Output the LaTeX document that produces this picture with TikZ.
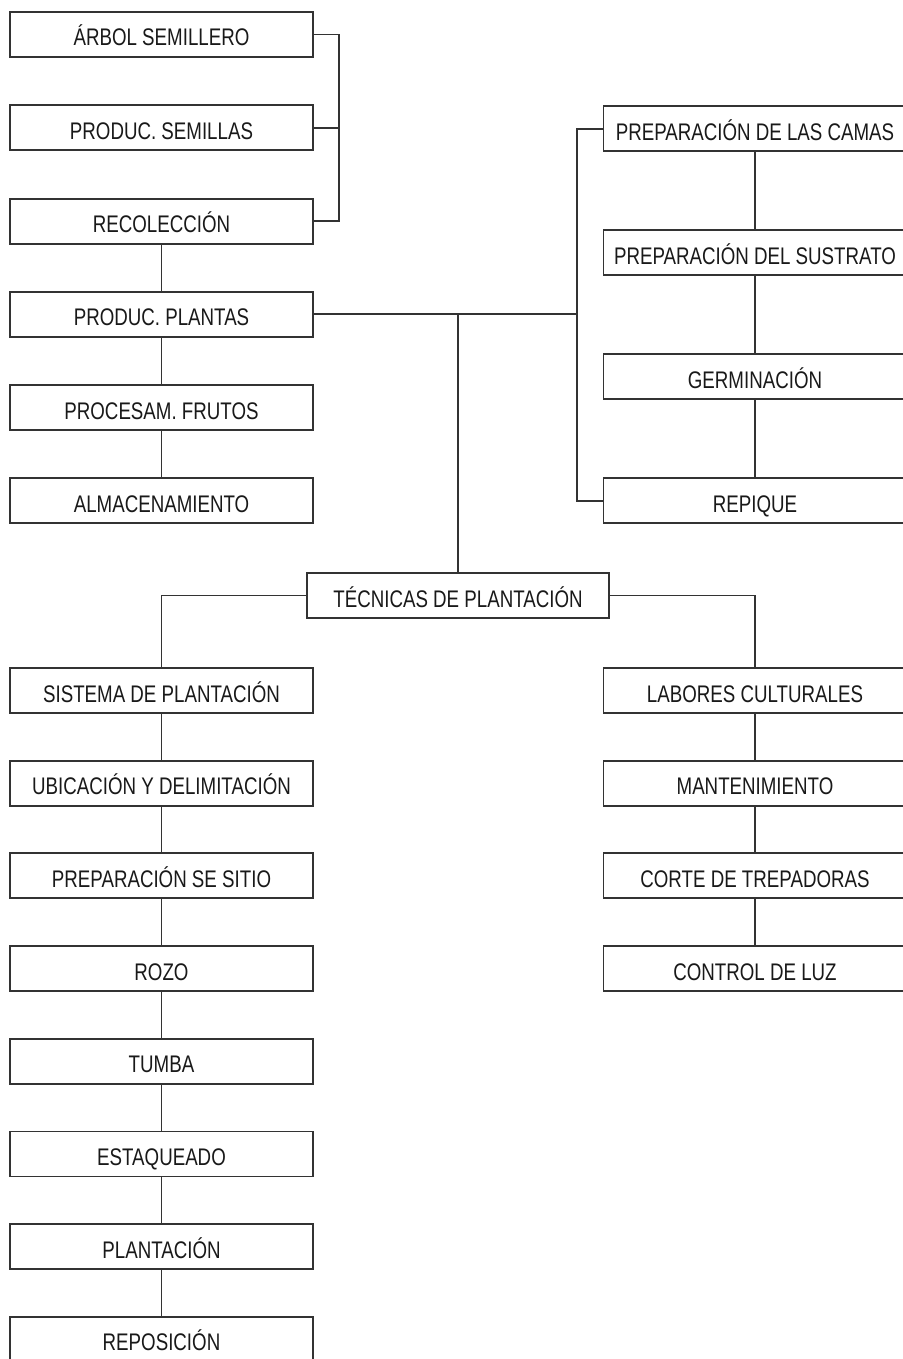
\documentclass[tikz,border=0pt]{standalone}
\usepackage{fontspec}
\setmainfont{Liberation Sans}[FakeStretch=0.78]
\usepackage{xcolor}
\usepackage{tikz}

\begin{document}
\begin{tikzpicture}[
    x=1pt, y=-1pt,
    % Stili comuni per riquadri e collegamenti.
    edge/.style={draw, line width=1.9pt, color=black!80},
    every node/.style={font=\fontsize{24}{26}\selectfont, align=center},
    stage/.style={rectangle, draw, line width=1.9pt, color=black!80, text=black!90,
        minimum width=303pt, minimum height=45pt, inner sep=0pt,
        text height=23pt, text depth=0pt}
]
\useasboundingbox (0,0) rectangle (902,1359);

% Colonna sinistra in alto: seme e produzione.
\node[stage] (arbol)  at (161.5, 34.5)  {ÁRBOL SEMILLERO};
\node[stage] (psem)   at (161.5, 127.8) {PRODUC. SEMILLAS};
\node[stage] (recol)  at (161.5, 221.1) {RECOLECCIÓN};
\node[stage] (pplan)  at (161.5, 314.3) {PRODUC. PLANTAS};
\node[stage] (proc)   at (161.5, 407.5) {PROCESAM. FRUTOS};
\node[stage] (almac)  at (161.5, 500.7) {ALMACENAMIENTO};

% Colonna destra in alto: vivaio.
\node[stage] (camas)  at (755, 128.8) {PREPARACIÓN DE LAS CAMAS};
\node[stage] (sustr)  at (755, 252.8) {PREPARACIÓN DEL SUSTRATO};
\node[stage] (germ)   at (755, 376.8) {GERMINACIÓN};
\node[stage] (repiq)  at (755, 500.7) {REPIQUE};

% Nodo centrale.
\node[stage, minimum width=302pt] (tecn) at (458, 595.5) {TÉCNICAS DE PLANTACIÓN};

% Ramo sinistro in basso.
\node[stage] (sist)   at (161.5, 690.5)  {SISTEMA DE PLANTACIÓN};
\node[stage] (ubic)   at (161.5, 783.2)  {UBICACIÓN Y DELIMITACIÓN};
\node[stage] (sitio)  at (161.5, 875.9)  {PREPARACIÓN SE SITIO};
\node[stage] (rozo)   at (161.5, 968.6)  {ROZO};
\node[stage] (tumba)  at (161.5, 1061.3) {TUMBA};
\node[stage] (estaq)  at (161.5, 1154.0) {ESTAQUEADO};
\node[stage] (plant)  at (161.5, 1246.7) {PLANTACIÓN};
\node[stage] (repos)  at (161.5, 1339.4) {REPOSICIÓN};

% Ramo destro in basso.
\node[stage] (labor)  at (755, 690.5) {LABORES CULTURALES};
\node[stage] (mant)   at (755, 783.2) {MANTENIMIENTO};
\node[stage] (corte)  at (755, 875.9) {CORTE DE TREPADORAS};
\node[stage] (luz)    at (755, 968.6) {CONTROL DE LUZ};

% Punti di giunzione.
\coordinate (brk)  at (339, 0);
\coordinate (trk)  at (577, 0);
\coordinate (mid)  at (458, 0);

% Parentesi in alto a sinistra.
\draw[edge] (arbol.east) -| (brk |- recol.east) -- (recol.east);
\draw[edge] (psem.east) -- (brk |- psem.east);

% Catena sinistra in alto.
\draw[edge] (recol) -- (pplan);
\draw[edge] (pplan) -- (proc);
\draw[edge] (proc) -- (almac);

% Collegamento al vivaio.
\draw[edge] (pplan.east) -- (trk |- pplan.east);
\draw[edge] (camas.west) -| (trk |- repiq.west) -- (repiq.west);
\draw[edge] (camas) -- (sustr);
\draw[edge] (sustr) -- (germ);
\draw[edge] (germ) -- (repiq);

% Discesa verso le tecniche di piantagione.
\draw[edge] (mid |- pplan.east) -- (tecn.north);
\draw[edge] (tecn.west) -| (sist.north);
\draw[edge] (tecn.east) -| (labor.north);

% Catena sinistra in basso.
\draw[edge] (sist) -- (ubic);
\draw[edge] (ubic) -- (sitio);
\draw[edge] (sitio) -- (rozo);
\draw[edge] (rozo) -- (tumba);
\draw[edge] (tumba) -- (estaq);
\draw[edge] (estaq) -- (plant);
\draw[edge] (plant) -- (repos);

% Catena destra in basso.
\draw[edge] (labor) -- (mant);
\draw[edge] (mant) -- (corte);
\draw[edge] (corte) -- (luz);
\end{tikzpicture}
\end{document}
